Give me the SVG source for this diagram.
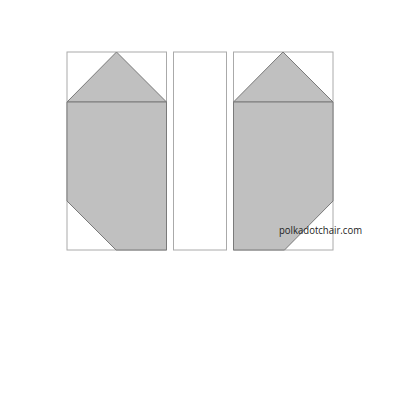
<svg xmlns="http://www.w3.org/2000/svg" width="400" height="400" viewBox="0 0 400 400">
<style>
.box{fill:#fff;stroke:#aaa;stroke-width:1}
.g{fill:#c0c0c0;stroke:#7a7a7a;stroke-width:1;stroke-linejoin:miter}
.t{font-family:"Open Sans","Liberation Sans",sans-serif;font-size:10.2px;fill:#222}
</style>
<rect width="400" height="400" fill="#fff"/>
<g id="block-left">
<rect class="box" x="67" y="52" width="99.5" height="198"/>
<polygon class="g" points="116.5,52 166.5,102 67,102"/>
<polygon class="g" points="67,102 166.5,102 166.5,250 116,250 67,201"/>
</g>
<g id="block-middle">
<rect class="box" x="173.5" y="52" width="53" height="198"/>
</g>
<g id="block-right">
<rect class="box" x="233.5" y="52" width="99.5" height="198"/>
<polygon class="g" points="283,52 333,102 233.5,102"/>
<polygon class="g" points="233.5,102 333,102 333,201 284.5,250 233.5,250"/>
</g>
<g id="connectors"/>
<text class="t" x="279" y="234" textLength="83" lengthAdjust="spacingAndGlyphs">polkadotchair.com</text>
</svg>
